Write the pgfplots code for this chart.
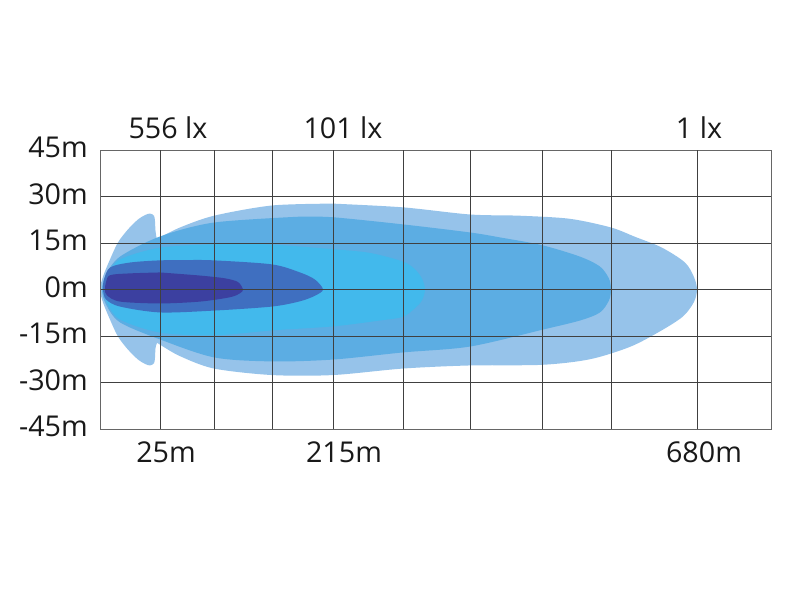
\documentclass[border=0pt]{standalone}
\usepackage{fontspec}
\setmainfont{Open Sans}
\usepackage{pgfplots}
\pgfplotsset{compat=1.18}

\definecolor{lux1}{HTML}{96C3EA}
\definecolor{lux2}{HTML}{5CADE3}
\definecolor{lux3}{HTML}{42B9EC}
\definecolor{lux4}{HTML}{3F6FC0}
\definecolor{lux5}{HTML}{3C40A0}
\definecolor{gridc}{HTML}{404040}

\begin{document}
\begin{tikzpicture}
\useasboundingbox (0,0) rectangle (600pt,450pt);
\begin{axis}[
    at={(75pt,128.25pt)}, anchor=south west,
    width=503.25pt, height=209.25pt, scale only axis,
    xmin=0, xmax=671, ymin=-45, ymax=45,
    axis on top, clip=false,
    xtick={66,244,604},
    xticklabels={25m,215m,680m},
    extra x ticks={60,114,172,233,303,370,442,511,597},
    extra x tick labels={},
    extra x tick style={grid=major},
    ytick={-45,-30,...,45},
    yticklabels={-45m,-30m,-15m,0m,15m,30m,45m},
    ymajorgrids,
    major tick length=0pt,
    grid style={gridc, line width=0.6pt},
    axis line style={gray!80!black, line width=0.6pt},
    tick label style={font=\fontsize{21.5}{24}\selectfont, text=black!90},
    xticklabel style={anchor=base, yshift=-25.5pt, inner sep=0pt},
    yticklabel style={anchor=east, xshift=-9pt, yshift=2pt, inner sep=0pt},
]
% 1 lx
\addplot[fill=lux1, draw=none, smooth] coordinates {
    (233,27.7) (172,27.1) (114,23.8) (80,20) (60,16.8) (57,16.3) (55.5,19)
    (55,22) (54,23.8) (50,24.5) (45,24) (38,22.6) (28,19.4) (18,15.2)
    (10,9.7) (3,4.2) (0,0) (3,-4.2) (10,-9.7) (18,-15.2) (28,-19.4)
    (38,-22.6) (45,-24) (50,-24.5) (54,-23.8) (55,-22) (55.5,-19) (57,-17.3)
    (60,-17.8) (80,-21.5) (114,-25.5) (172,-27.6) (233,-27.6) (303,-25.5)
    (370,-24.5) (442,-24.3) (490,-22.5) (530,-18.5) (560,-13.5) (583,-8.7)
    (594,-4) (597,0) (594,4) (585,8.7) (562,13.5) (535,17) (511,20)
    (470,22.8) (420,23.8) (370,24.2) (303,26.5) (233,27.7)
} -- cycle;
% medium
\addplot[fill=lux2, draw=none, smooth] coordinates {
    (200,23.5) (114,21.6) (60,17.1) (20,10.6) (6,4.8) (2,0) (6,-4.8)
    (20,-10.6) (60,-16.1) (114,-21.9) (172,-23.2) (233,-22.6) (303,-20.3)
    (370,-18.4) (442,-13) (480,-10) (500,-7.4) (509,-3.5) (511,0)
    (509,3.5) (500,7.4) (480,10.6) (442,14.3) (400,16.8) (370,18.4)
    (303,21) (233,23.3) (200,23.5)
} -- cycle;
% 101 lx
\addplot[fill=lux3, draw=none, smooth] coordinates {
    (140,14.7) (114,14.6) (60,13.5) (20,9.7) (8,4.8) (4,0) (8,-4.8)
    (20,-9.7) (60,-13.9) (114,-14.8) (172,-13.2) (233,-11.9) (280,-10)
    (303,-8.8) (315,-6) (322,-3.5) (325,0) (322,3.5) (315,6.5) (303,9)
    (270,11.8) (233,13) (172,14.5) (140,14.7)
} -- cycle;
% inner
\addplot[fill=lux4, draw=none, smooth] coordinates {
    (90,9.5) (60,9.4) (30,8.7) (10,7.1) (4,3.2) (3,0) (6,-3.2) (20,-5.5)
    (60,-7.4) (114,-6.8) (172,-5.5) (200,-3.8) (215,-2) (223,0) (215,3.2)
    (200,5.5) (172,8.1) (114,9.4) (90,9.5)
} -- cycle;
% 556 lx
\addplot[fill=lux5, draw=none, smooth] coordinates {
    (60,5.5) (30,5.2) (10,4.6) (6,2.3) (5,0) (7,-1.9) (20,-3.9) (60,-4.5)
    (100,-3.9) (130,-2.5) (140,-1.2) (143,0) (138,2.4) (125,3.6) (100,4.5)
    (60,5.5)
} -- cycle;

\node[anchor=base, yshift=8.25pt, font=\fontsize{21.5}{24}\selectfont, text=black!90]
    at (axis cs:68,45) {556 lx};
\node[anchor=base, yshift=8.25pt, font=\fontsize{21.5}{24}\selectfont, text=black!90]
    at (axis cs:243,45) {101 lx};
\node[anchor=base, yshift=8.25pt, font=\fontsize{21.5}{24}\selectfont, text=black!90]
    at (axis cs:599,45) {1 lx};
\end{axis}
\end{tikzpicture}
\end{document}
